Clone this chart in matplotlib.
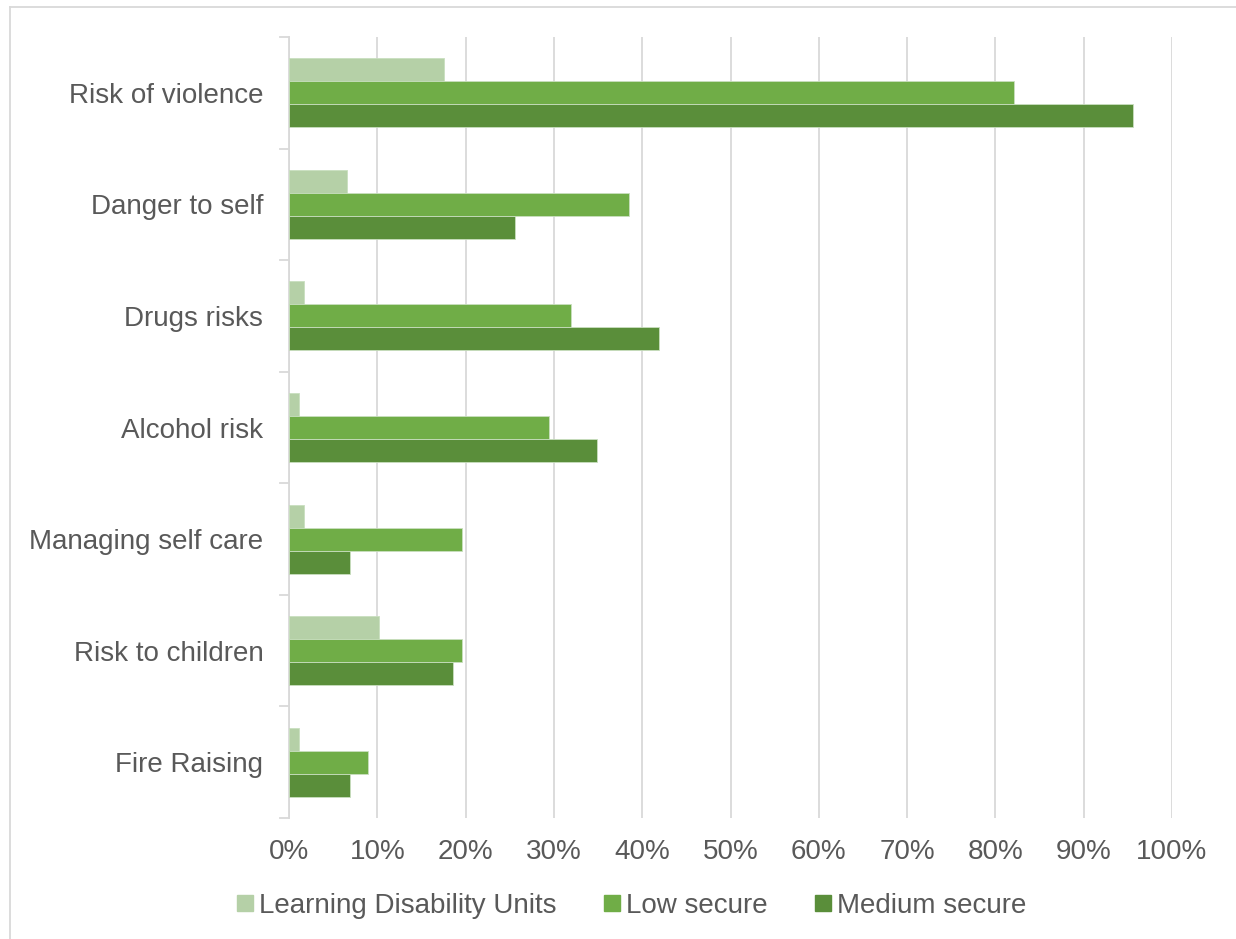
import numpy as np
import matplotlib.pyplot as plt
from matplotlib.lines import Line2D

plt.rcParams['font.family'] = ['Liberation Sans', 'DejaVu Sans']

categories = ["Risk of violence", "Danger to self", "Drugs risks", "Alcohol risk",
              "Managing self care", "Risk to children", "Fire Raising"]
ld_units = [17.5, 6.6, 1.7, 1.1, 1.7, 10.2, 1.1]
low_secure = [82.1, 38.5, 31.9, 29.5, 19.6, 19.6, 8.9]
medium_secure = [95.6, 25.6, 41.9, 34.9, 6.9, 18.6, 6.9]

series = [("Learning Disability Units", ld_units, "#b5d0a7"),
          ("Low secure", low_secure, "#70ad47"),
          ("Medium secure", medium_secure, "#5a8e3a")]

text_col = "#595959"
grid_col = "#d9d9d9"

fig = plt.figure(figsize=(12.36, 9.39), dpi=100)
ax = fig.add_axes([289 / 1236, 1 - 818 / 939, (1172 - 289) / 1236, (818 - 37) / 939])

y = np.arange(len(categories))
h = 0.206
for i, (name, vals, col) in enumerate(series):
    ax.barh(y + (i - 1) * h, np.array(vals) / 100, height=h, color=col,
            edgecolor="#c9dfbf", linewidth=0.6, label=name, zorder=3)

ax.set_xlim(0, 1.0)
ax.set_ylim(len(categories) - 0.5, -0.5)
ax.set_xticks(np.arange(0, 1.01, 0.1))
ax.set_xticklabels([f"{int(round(v * 100))}%" for v in np.arange(0, 1.01, 0.1)])
ax.set_yticks(y)
ax.set_yticklabels(categories)
ax.grid(axis="x", color=grid_col, linewidth=1.3, zorder=0)

for s in ["top", "right", "bottom"]:
    ax.spines[s].set_visible(False)
ax.spines["left"].set_color(grid_col)
ax.spines["left"].set_linewidth(1.3)

ax.tick_params(axis="x", length=0, pad=15, labelsize=20, labelcolor=text_col)
ax.tick_params(axis="y", length=0, pad=18.5, labelsize=20, labelcolor=text_col)

# category separator ticks on the y axis
for b in np.arange(-0.5, len(categories), 1.0):
    ax.plot([-0.01, 0], [b, b], color=grid_col, lw=1.3, clip_on=False,
            transform=ax.get_yaxis_transform(), zorder=1)

handles = [Line2D([], [], marker="s", linestyle="none", markersize=11,
                  markerfacecolor=c, markeredgecolor=c) for _, _, c in series]
fig.legend(handles, [n for n, _, _ in series], loc="center",
           bbox_to_anchor=(630 / 1236, 1 - 906 / 939), ncol=3, frameon=False,
           fontsize=20, labelcolor=text_col, handletextpad=0.1, columnspacing=1.6,
           handlelength=0.8)

# outer chart border (top and left visible)
fig.add_artist(Line2D([10 / 1236, 10 / 1236], [0, 1 - 7 / 939], color=grid_col, lw=1.3))
fig.add_artist(Line2D([10 / 1236, 1], [1 - 7 / 939, 1 - 7 / 939], color=grid_col, lw=1.3))

fig.savefig("out.png", dpi=100, facecolor="white")
